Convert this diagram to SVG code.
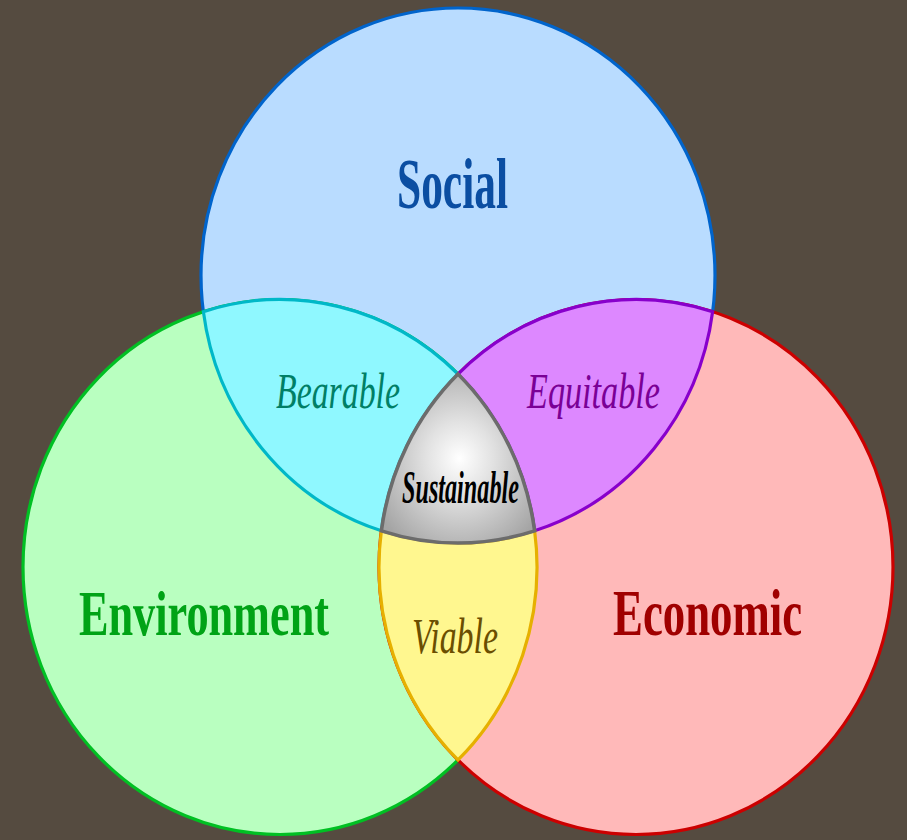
<svg xmlns="http://www.w3.org/2000/svg" width="907" height="840" viewBox="0 0 907 840">
<defs>
<radialGradient id="gSus" cx="0.51" cy="0.5" r="0.62">
<stop offset="0" stop-color="#ffffff"/>
<stop offset="0.35" stop-color="#e2e2e2"/>
<stop offset="1" stop-color="#a4a4a4"/>
</radialGradient>
<style>
.c{stroke-width:3.2}
.big{font-family:"Liberation Serif","Times New Roman",serif;font-weight:bold}
.it{font-family:"Liberation Serif","Times New Roman",serif;font-style:italic}
</style>
</defs>
<rect x="0" y="0" width="907" height="840" fill="#554b40"/>
<g id="social">
<ellipse class="c" cx="458" cy="275.5" rx="257" ry="267.5" fill="#b9dcff" stroke="#0064cc"/>
<text class="big" transform="scale(0.6116,1)" x="649.1" y="208" font-size="71" textLength="181.5" lengthAdjust="spacingAndGlyphs" fill="#0b4ea2">Social</text>
</g>
<g id="environment">
<ellipse class="c" cx="280" cy="567" rx="257" ry="267.5" fill="#b9ffc0" stroke="#00c023"/>
<text class="big" transform="scale(0.6887,1)" x="114.7" y="635" font-size="64" textLength="363" lengthAdjust="spacingAndGlyphs" fill="#00a316">Environment</text>
</g>
<g id="economic">
<ellipse class="c" cx="636" cy="567" rx="257" ry="267.5" fill="#ffb9b9" stroke="#cc0000"/>
<text class="big" transform="scale(0.6888,1)" x="890" y="635" font-size="65" textLength="274.4" lengthAdjust="spacingAndGlyphs" fill="#a00000">Economic</text>
</g>
<g id="bearable">
<path class="c" d="M 203.36 311.65 A 257 267.5 0 0 1 458 374.02 A 257 267.5 0 0 0 381.36 530.84 A 257 267.5 0 0 1 203.36 311.65 Z" fill="#8ff8ff" stroke="#00b8c8"/>
<text class="it" transform="scale(0.6765,1)" x="408" y="408" font-size="50" textLength="183.3" lengthAdjust="spacingAndGlyphs" fill="#007f66">Bearable</text>
</g>
<g id="equitable">
<path class="c" d="M 712.64 311.65 A 257 267.5 0 0 0 458 374.02 A 257 267.5 0 0 1 534.64 530.84 A 257 267.5 0 0 0 712.64 311.65 Z" fill="#dd88ff" stroke="#8800cc"/>
<text class="it" transform="scale(0.684,1)" x="770.5" y="408" font-size="50" textLength="194.45" lengthAdjust="spacingAndGlyphs" fill="#7a0096">Equitable</text>
</g>
<g id="viable">
<path class="c" d="M 381.36 530.84 A 257 267.5 0 0 0 458 759.94 A 257 267.5 0 0 0 534.64 530.84 A 257 267.5 0 0 1 381.36 530.84 Z" fill="#fff78f" stroke="#e6b000"/>
<text class="it" transform="scale(0.6588,1)" x="625.4" y="653" font-size="50" textLength="130.55" lengthAdjust="spacingAndGlyphs" fill="#6b4e00">Viable</text>
</g>
<g id="sustainable">
<path d="M 458 374.02 A 257 267.5 0 0 1 534.64 530.84 A 257 267.5 0 0 1 381.36 530.84 A 257 267.5 0 0 1 458 374.02 Z" fill="url(#gSus)" stroke="#6c6c6c" stroke-width="3.6"/>
<text class="it" transform="scale(0.526,1)" x="764.2" y="503" font-size="46" font-weight="bold" textLength="222.4" lengthAdjust="spacingAndGlyphs" fill="#000000">Sustainable</text>
</g>
<g id="connectors"/>
</svg>
